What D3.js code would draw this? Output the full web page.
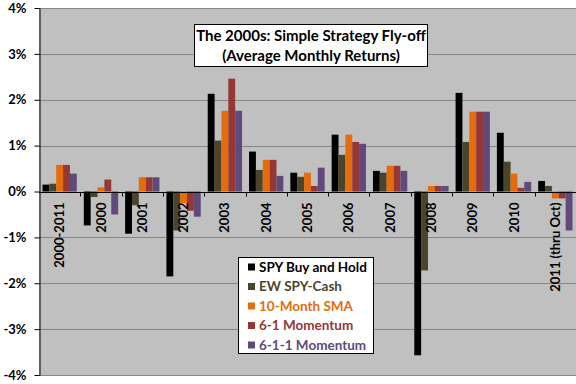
<!DOCTYPE html>
<html>
<head>
<meta charset="utf-8">
<script src="https://cdn.jsdelivr.net/npm/d3@7"></script>
<style>
  body { margin: 0; background: #fff; }
  text { font-family: Lato, "Open Sans", sans-serif; font-weight: bold; }
</style>
</head>
<body>
<div id="app"></div>
<script>
// categories and series (average monthly returns, %)
var categories = ["2000-2011", "2000", "2001", "2002", "2003", "2004", "2005", "2006", "2007", "2008", "2009", "2010", "2011 (thru Oct)"];
var seriesNames = ["SPY Buy and Hold", "EW SPY-Cash", "10-Month SMA", "6-1 Momentum", "6-1-1 Momentum"];
var spyBuyHold = [0.15, -0.74, -0.92, -1.85, 2.13, 0.87, 0.41, 1.24, 0.45, -3.57, 2.15, 1.28, 0.23];
var ewSpyCash  = [0.17, -0.12, -0.30, -0.85, 1.11, 0.47, 0.32, 0.80, 0.41, -1.72, 1.08, 0.65, 0.12];
var sma10      = [0.58, 0.09, 0.31, -0.25, 1.76, 0.69, 0.41, 1.24, 0.56, 0.12, 1.74, 0.39, -0.15];
var mom61      = [0.58, 0.26, 0.31, -0.42, 2.46, 0.69, 0.12, 1.08, 0.56, 0.12, 1.74, 0.08, -0.15];
var mom611     = [0.39, -0.50, 0.31, -0.55, 1.76, 0.34, 0.52, 1.04, 0.45, 0.12, 1.74, 0.21, -0.85];
var yTicks = [-4, -3, -2, -1, 0, 1, 2, 3, 4];
var colors = ["#000000", "#4a452a", "#e46c0a", "#953735", "#604a7b"];

var allSeries = [spyBuyHold, ewSpyCash, sma10, mom61, mom611];

var width = 576, height = 384;
var plotLeft = 39, plotRight = 576, plotTop = 8, plotBottom = 375;

var svg = d3.select("#app").append("svg")
  .attr("width", width)
  .attr("height", height);

var x0 = d3.scaleBand().domain(categories).range([plotLeft, plotRight]);
var x1 = d3.scaleBand().domain(d3.range(seriesNames.length))
  .range([3.5, x0.bandwidth() - 3.5]);
var y = d3.scaleLinear().domain([-4, 4]).range([plotBottom, plotTop]);

// plot background
svg.append("rect")
  .attr("x", plotLeft).attr("y", plotTop)
  .attr("width", plotRight - plotLeft).attr("height", plotBottom - plotTop)
  .attr("fill", "#c0c0c0");

// gridlines
svg.append("g").selectAll("line")
  .data(yTicks)
  .enter().append("line")
  .attr("x1", plotLeft).attr("x2", plotRight)
  .attr("y1", d => Math.round(y(d)) + 0.5).attr("y2", d => Math.round(y(d)) + 0.5)
  .attr("stroke", "#868686");

// bars
var groups = svg.append("g").selectAll("g")
  .data(categories)
  .enter().append("g")
  .attr("transform", d => "translate(" + x0(d) + ",0)");

groups.selectAll("rect")
  .data((d, i) => allSeries.map((s, k) => ({ k: k, v: s[i] })))
  .enter().append("rect")
  .attr("x", d => x1(d.k))
  .attr("width", x1.bandwidth())
  .attr("y", d => y(Math.max(0, d.v)))
  .attr("height", d => Math.abs(y(d.v) - y(0)))
  .attr("fill", d => colors[d.k]);

// y axis
var yAxis = svg.append("g")
  .attr("transform", "translate(" + (plotLeft + 0.5) + ",0)")
  .call(d3.axisLeft(y).tickValues(yTicks).tickFormat(d => d + "%").tickSize(5).tickSizeOuter(0));
yAxis.select(".domain").attr("stroke", "#000");
yAxis.selectAll(".tick line").attr("stroke", "#000");
yAxis.selectAll("text")
  .attr("x", -13)
  .attr("font-size", 13)
  .attr("font-family", "Lato, sans-serif")
  .attr("font-weight", "bold")
  .attr("fill", "#000");

// x axis at zero
var zeroY = Math.round(y(0)) + 0.5;
svg.append("line")
  .attr("x1", plotLeft).attr("x2", plotRight)
  .attr("y1", zeroY).attr("y2", zeroY)
  .attr("stroke", "#000");
svg.append("g").selectAll("line")
  .data(categories.slice(1))
  .enter().append("line")
  .attr("x1", d => Math.round(x0(d)) + 0.5).attr("x2", d => Math.round(x0(d)) + 0.5)
  .attr("y1", zeroY).attr("y2", zeroY + 4)
  .attr("stroke", "#000");

// category labels
svg.append("g").selectAll("text")
  .data(categories)
  .enter().append("text")
  .attr("transform", d => "translate(" + (x0(d) + x0.bandwidth() / 2) + "," + (zeroY + 10) + ") rotate(-90)")
  .attr("dy", "0.35em")
  .attr("text-anchor", "end")
  .attr("font-size", 13)
  .attr("fill", "#000")
  .text(d => d);

// title box
var tb = svg.append("g");
tb.append("rect")
  .attr("x", 194.5).attr("y", 24.5)
  .attr("width", 233).attr("height", 42)
  .attr("fill", "#fff").attr("stroke", "#000");
tb.append("text")
  .attr("x", 311).attr("y", 41)
  .attr("text-anchor", "middle").attr("font-size", 15)
  .text("The 2000s:  Simple Strategy Fly-off");
tb.append("text")
  .attr("x", 311).attr("y", 61)
  .attr("text-anchor", "middle").attr("font-size", 15)
  .text("(Average Monthly Returns)");

// legend
var lg = svg.append("g");
lg.append("rect")
  .attr("x", 238.5).attr("y", 257.5)
  .attr("width", 135).attr("height", 96)
  .attr("fill", "#fff").attr("stroke", "#000");
var items = lg.selectAll("g.item")
  .data(seriesNames)
  .enter().append("g")
  .attr("class", "item")
  .attr("transform", (d, i) => "translate(0," + (267 + i * 19.5) + ")");
items.append("rect")
  .attr("x", 248).attr("y", -3.5)
  .attr("width", 7).attr("height", 7)
  .attr("fill", (d, i) => colors[i]);
items.append("text")
  .attr("x", 259).attr("dy", "0.35em")
  .attr("font-size", 13.5)
  .attr("fill", (d, i) => i === 0 ? "#000" : colors[i])
  .text(d => d);
</script>
</body>
</html>
